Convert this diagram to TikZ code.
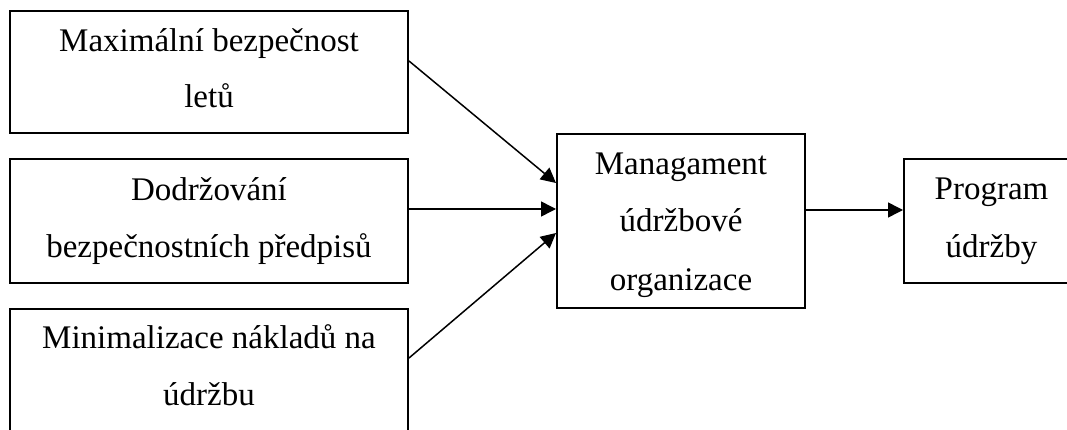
\documentclass[tikz,border=0pt]{standalone}
\usepackage{fontspec}
\setmainfont{Liberation Serif}
\usetikzlibrary{arrows.meta}
\begin{document}
\begin{tikzpicture}[x=1pt,y=-1pt,
  box/.style={draw,line width=2pt,inner sep=0pt},
  txt/.style={anchor=base,inner sep=0pt,font=\fontsize{33}{40}\selectfont},
  conn/.style={line width=1.5pt,-{Triangle[length=15pt,width=15pt]}}]
\clip (0,0) rectangle (1067,430);
% boxes
\node[box,minimum width=398pt,minimum height=122pt] (b1) at (209,72) {};
\node[box,minimum width=398pt,minimum height=124pt] (b2) at (209,221) {};
\node[box,minimum width=398pt,minimum height=122pt] (b3) at (209,370) {};
\node[box,minimum width=248pt,minimum height=174pt] (m) at (681,221) {};
\node[box,minimum width=175pt,minimum height=124pt] (r) at (991.5,221) {};
% texts
\node[txt] (t1a) at (209,52) {Maximální bezpečnost};
\node[txt] (t1b) at (209,108) {letů};
\node[txt] (t2a) at (209,201) {Dodržování};
\node[txt] (t2b) at (209,258) {bezpečnostních předpisů};
\node[txt] (t3a) at (209,348) {Minimalizace nákladů na};
\node[txt] (t3b) at (209,405) {údržbu};
\node[txt] (tma) at (681,175) {Managament};
\node[txt] (tmb) at (681,232) {údržbové};
\node[txt] (tmc) at (681,290) {organizace};
\node[txt] (tra) at (991.5,200) {Program};
\node[txt] (trb) at (991.5,257) {údržby};
% connectors
\draw[conn] ([yshift=11pt]b1.east) -- ([yshift=38pt]m.west);
\draw[conn] ([yshift=12pt]b2.east) -- ([yshift=12pt]m.west);
\draw[conn] ([yshift=12pt]b3.east) -- ([yshift=-12pt]m.west);
\draw[conn] ([yshift=11pt]m.east) -- ([yshift=11pt]r.west);
\end{tikzpicture}
\end{document}
